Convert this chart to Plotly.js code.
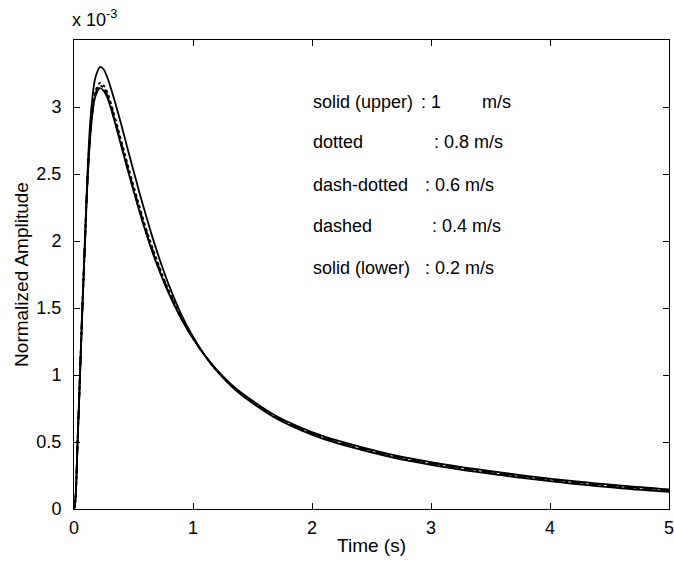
<!DOCTYPE html>
<html>
<head>
<meta charset="utf-8">
<script src="https://cdn.plot.ly/plotly-3.0.1.min.js"></script>
<style>html,body{margin:0;padding:0;background:#fff;}#chart{width:674px;height:564px;}</style>
</head>
<body>
<div id="chart"></div>
<script>
// Time axis (s)
const time = [0,0.01,0.03,0.05,0.07,0.09,0.11,0.13,0.15,0.18,0.22,0.25,0.28,0.31,0.35,0.4,0.45,0.5,0.55,0.6,0.65,0.7,0.75,0.8,0.9,1.0,1.1,1.2,1.35,1.5,1.7,1.9,2.1,2.4,2.7,3.0,3.4,3.8,4.2,4.6,5.0];
// Normalized amplitude, in units of 1e-3
const v10 = [0,0.05,0.5,1.0,1.5,1.96,2.43,2.8,3.03,3.22,3.30,3.28,3.22,3.14,3.02,2.86,2.69,2.525,2.36,2.205,2.055,1.915,1.785,1.665,1.455,1.285,1.145,1.03,0.893,0.79,0.675,0.59,0.522,0.445,0.38,0.33,0.275,0.228,0.188,0.155,0.128];
const v08 = [0,0.05,0.5,1.0,1.5,1.95,2.41,2.74,2.95,3.12,3.18,3.16,3.11,3.03,2.905,2.74,2.575,2.415,2.26,2.11,1.975,1.85,1.73,1.625,1.435,1.278,1.146,1.034,0.898,0.797,0.682,0.597,0.528,0.45,0.385,0.335,0.28,0.233,0.193,0.16,0.132];
const v06 = [0,0.05,0.5,1.0,1.5,1.95,2.4,2.72,2.93,3.1,3.16,3.14,3.09,3.01,2.885,2.72,2.555,2.395,2.24,2.095,1.96,1.835,1.72,1.615,1.43,1.275,1.145,1.035,0.9,0.8,0.685,0.6,0.532,0.455,0.39,0.34,0.285,0.238,0.198,0.165,0.137];
const v04 = [0,0.05,0.49,0.99,1.49,1.94,2.39,2.71,2.92,3.09,3.15,3.13,3.08,3.0,2.875,2.71,2.545,2.385,2.23,2.085,1.95,1.825,1.712,1.608,1.426,1.273,1.145,1.036,0.903,0.803,0.689,0.604,0.536,0.46,0.395,0.345,0.29,0.243,0.203,0.17,0.142];
const v02 = [0,0.05,0.49,0.98,1.48,1.93,2.38,2.70,2.91,3.08,3.14,3.12,3.07,2.99,2.865,2.70,2.535,2.375,2.22,2.075,1.94,1.817,1.705,1.602,1.422,1.272,1.146,1.038,0.907,0.808,0.694,0.61,0.542,0.466,0.4,0.35,0.295,0.248,0.208,0.175,0.147];

const series = [v10, v08, v06, v04, v02];
const dashes = ['solid','dot','dashdot','dash','solid'];
const names = ['1 m/s','0.8 m/s','0.6 m/s','0.4 m/s','0.2 m/s'];

const legendLeft = ['solid (upper)','dotted','dash-dotted','dashed','solid (lower)'];
const legendRight = [': 1',': 0.8 m/s',': 0.6 m/s',': 0.4 m/s',': 0.2 m/s'];
const extraUnit = 'm/s';

const xTicks = [0,1,2,3,4,5];
const yTicks = [0,0.5,1,1.5,2,2.5,3];

const fam = 'Liberation Sans, Arial, sans-serif';
const tickFont = {family:fam, size:18, color:'#000'};
const textFont = {family:fam, size:18, color:'#000'};
const titleFont = {family:fam, size:19, color:'#000'};

const traces = series.map((v,i)=>({
  x: time, y: v, type:'scatter', mode:'lines', name: names[i],
  line:{color:'#000', width:1.8, dash:dashes[i], shape:'spline', smoothing:1}
}));

const rowY = [3.04,2.74,2.42,2.11,1.80];
const rightX = [2.90,3.01,2.93,2.99,2.93];
const annotations = [];
legendLeft.forEach((t,i)=>{
  annotations.push({x:1.99, y:rowY[i], xref:'x', yref:'y', text:t, showarrow:false, xanchor:'left', yanchor:'middle', font:textFont});
  annotations.push({x:rightX[i], y:rowY[i], xref:'x', yref:'y', text:legendRight[i], showarrow:false, xanchor:'left', yanchor:'middle', font:textFont});
});
annotations.push({x:3.41, y:rowY[0], xref:'x', yref:'y', text:extraUnit, showarrow:false, xanchor:'left', yanchor:'middle', font:textFont});
annotations.push({x:0, y:1, xref:'paper', yref:'paper', xshift:-4, yshift:8, text:'x 10<sup>-3</sup>', showarrow:false, xanchor:'left', yanchor:'bottom', font:textFont});

const axisCommon = {showgrid:false, zeroline:false, showline:true, linecolor:'#000', linewidth:1, mirror:'ticks', ticks:'inside', ticklen:6, tickcolor:'#000', tickfont:tickFont, ticklabeloverflow:'allow'};

const layout = {
  width:674, height:564,
  margin:{l:74, r:5, t:40, b:55},
  paper_bgcolor:'#fff', plot_bgcolor:'#fff',
  showlegend:false,
  font:textFont,
  xaxis:Object.assign({}, axisCommon, {range:[0,5], tickvals:xTicks, ticklabelstandoff:2, title:{text:'Time (s)', font:titleFont, standoff:2}}),
  yaxis:Object.assign({}, axisCommon, {range:[0,3.5], tickvals:yTicks, ticklabelstandoff:8, title:{text:'Normalized Amplitude', font:titleFont, standoff:2}}),
  annotations: annotations
};

Plotly.newPlot('chart', traces, layout, {displayModeBar:false, staticPlot:true});
</script>
</body>
</html>
